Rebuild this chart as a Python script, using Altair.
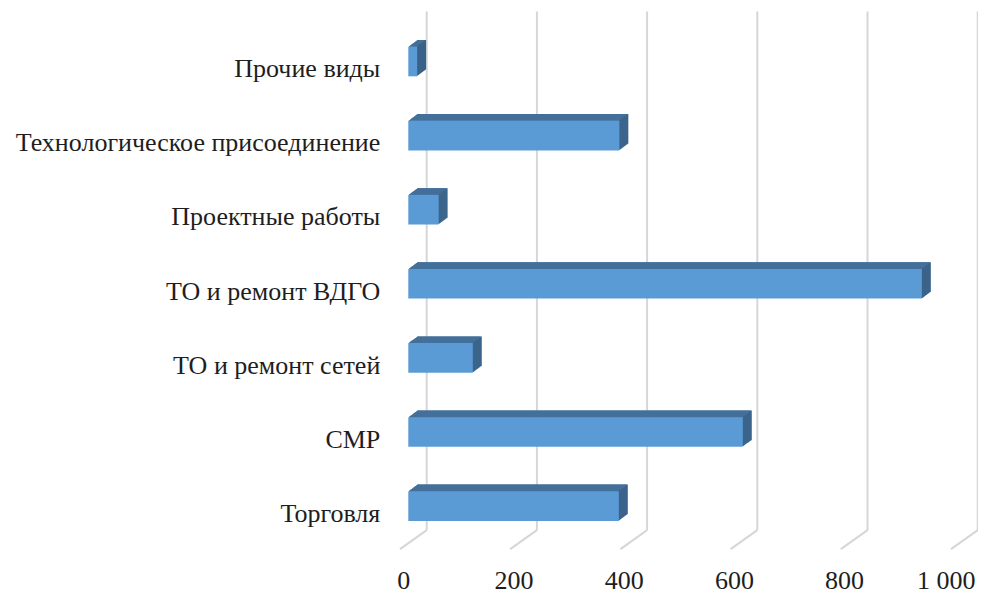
import altair as alt
import pandas as pd

# ---- data ----
categories = [
    "Прочие виды",
    "Технологическое присоединение",
    "Проектные работы",
    "ТО и ремонт ВДГО",
    "ТО и ремонт сетей",
    "СМР",
    "Торговля",
]
values = [16, 383, 55, 932, 117, 607, 382]
tick_values = [0, 200, 400, 600, 800, 1000]
tick_labels = ["0", "200", "400", "600", "800", "1 000"]

bars = pd.DataFrame({"cat": categories, "value": values})
ticks = pd.DataFrame({"v": tick_values, "label": tick_labels})

# ---- layout / style ----
W = 551
H = 518.7
PAD_L = 400.3
PAD_T = 16.45
PAD_R = 970 - PAD_L - W
PAD_B = 586 - PAD_T - H
FONT = "Liberation Serif"
FRONT = "#5B9BD5"
TOP = "#4674A0"
SIDE = "#3A6187"
GRID = "#D6D6D6"
TEXT = "#1e1e1e"
DEPTH = 9          # pixel depth of the bar extrusion
SLOPE = 0.74       # vertical rise per pixel of depth

xscale = alt.Scale(domain=[0, 1000], range=[0, W], nice=False, zero=True)
yscale = alt.Scale(domain=categories, paddingInner=0.6, paddingOuter=0.3)

X = lambda f: alt.X(f, type="quantitative", scale=xscale, axis=None)
Y = alt.Y("cat:N", scale=yscale, axis=None, sort=categories)

grid = alt.Chart(ticks).mark_rule(
    color=GRID, strokeWidth=2, xOffset=18.4, yOffset=-13, y2Offset=-13
).encode(x=X("v"), y=alt.value(0), y2=alt.value(H))

floor = alt.Chart(ticks).mark_rule(
    color=GRID, strokeWidth=2, xOffset=-8.3, x2Offset=18.4, yOffset=6, y2Offset=-13
).encode(x=X("v"), x2=alt.X2("v"), y=alt.value(H), y2=alt.value(H))

layers = [grid, floor]
base = alt.Chart(bars)
for i in range(DEPTH, 0, -1):
    dy = -SLOPE * i
    layers.append(
        base.mark_bar(color=SIDE, xOffset=i, x2Offset=i, yOffset=dy, y2Offset=dy)
        .encode(x=X("value"), x2=alt.X2(datum=0), y=Y)
    )
    layers.append(
        base.mark_bar(color=TOP, xOffset=i - 1, x2Offset=i, yOffset=dy, y2Offset=dy)
        .encode(x=X("value"), x2=alt.X2(datum=0), y=Y)
    )

front = base.mark_bar(color=FRONT).encode(x=X("value"), x2=alt.X2(datum=0), y=Y)
layers.append(front)

cat_labels = base.mark_text(
    align="right", baseline="alphabetic", font=FONT, fontSize=26, color=TEXT, dy=15.7
).encode(x=alt.value(-28), y=Y, text="cat:N")
layers.append(cat_labels)

tick_text = alt.Chart(ticks).transform_filter("datum.v < 1000").mark_text(
    align="center", baseline="alphabetic", font=FONT, fontSize=26, color=TEXT, dx=-4.5
).encode(x=X("v"), y=alt.value(H + 46), text="label:N")
layers.append(tick_text)

tick_text_last = alt.Chart(ticks).transform_filter("datum.v >= 1000").mark_text(
    align="center", baseline="alphabetic", font=FONT, fontSize=26, color=TEXT, dx=-13
).encode(x=X("v"), y=alt.value(H + 46), text="label:N")
layers.append(tick_text_last)

chart = (
    alt.layer(*layers)
    .properties(
        width=W,
        height=H,
        autosize=alt.AutoSizeParams(type="none"),
        padding={"left": PAD_L, "top": PAD_T, "right": PAD_R, "bottom": PAD_B},
        background="white",
    )
    .configure_view(stroke=None)
)

chart.save("out.html", embed_options={"renderer": "svg", "actions": False})
